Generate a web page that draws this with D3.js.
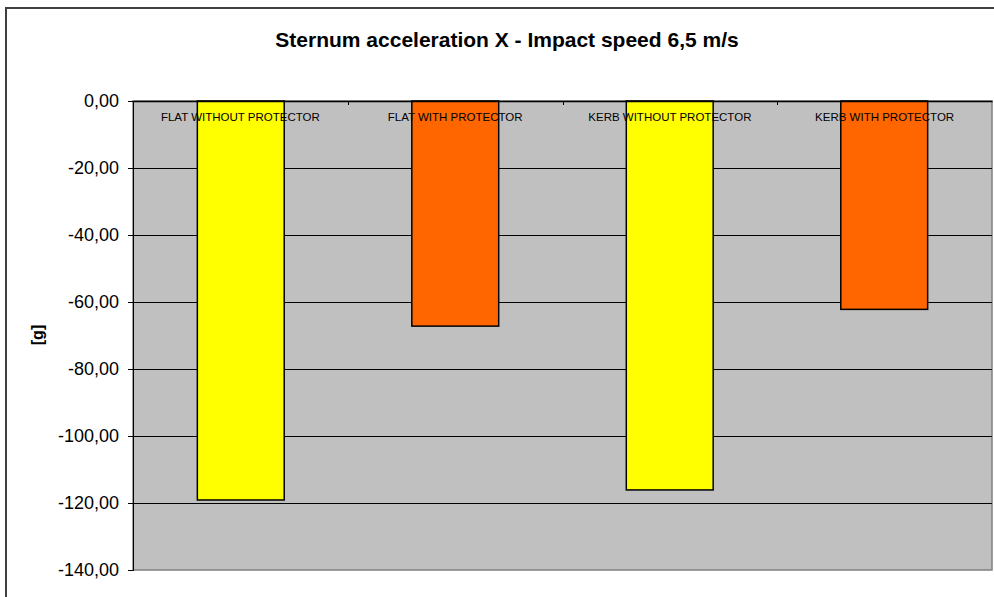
<!DOCTYPE html>
<html>
<head>
<meta charset="utf-8">
<script src="https://cdn.jsdelivr.net/npm/d3@7"></script>
<style>
	body { margin: 0; background: #fff; }
	text { font-family: Arial, "Liberation Sans", sans-serif; }
</style>
</head>
<body>
<svg id="chart"></svg>
<script>
// Data
const categories = ['FLAT WITHOUT PROTECTOR', 'FLAT WITH PROTECTOR', 'KERB WITHOUT PROTECTOR', 'KERB WITH PROTECTOR'];
const values = [-119.1, -67.2, -116.1, -62.2];
const barColours = ['#FFFF00', '#FF6600', '#FFFF00', '#FF6600'];
const yTicks = [0, -20, -40, -60, -80, -100, -120, -140];

const config = {
	width: 994,
	height: 597,
	margin: { top: 101, right: 2, bottom: 27, left: 133 }
};

const innerWidth = config.width - config.margin.left - config.margin.right;
const innerHeight = config.height - config.margin.top - config.margin.bottom;

const svg = d3.select('#chart')
	.attr('width', config.width)
	.attr('height', config.height);

// Outer chart border (right/bottom edges fall outside the picture)
svg.append('rect')
	.attr('x', 6)
	.attr('y', 8)
	.attr('width', 1010)
	.attr('height', 620)
	.attr('fill', '#fff')
	.attr('stroke', '#404040')
	.attr('stroke-width', 2);

svg.append('text')
	.attr('x', 507)
	.attr('y', 47)
	.attr('text-anchor', 'middle')
	.attr('font-size', 21)
	.attr('font-weight', 'bold')
	.text('Sternum acceleration X - Impact speed 6,5 m/s');

const chartArea = svg.append('g')
	.attr('transform', `translate(${config.margin.left},${config.margin.top})`);

const xScale = d3.scaleBand()
	.domain(categories)
	.range([0, innerWidth])
	.paddingInner(0.595)
	.paddingOuter(0.3);

const xCat = d3.scaleBand()
	.domain(categories)
	.range([0, innerWidth]);

const yScale = d3.scaleLinear()
	.domain([0, -140])
	.range([0, innerHeight]);

// Plot area background
chartArea.append('rect')
	.attr('width', innerWidth)
	.attr('height', innerHeight)
	.attr('fill', '#C0C0C0')
	.attr('stroke', '#808080')
	.attr('stroke-width', 1.5);

// Gridlines
chartArea.append('g')
	.selectAll('line')
	.data(yTicks.filter(d => d !== 0 && d !== -140))
	.join('line')
	.attr('x1', 0)
	.attr('x2', innerWidth)
	.attr('y1', d => Math.round(yScale(d)) + 0.5)
	.attr('y2', d => Math.round(yScale(d)) + 0.5)
	.attr('stroke', '#000')
	.attr('stroke-width', 1);

// Bars
chartArea.selectAll('.bar')
	.data(values)
	.join('rect')
	.attr('class', 'bar')
	.attr('x', (d, i) => xScale(categories[i]))
	.attr('y', yScale(0))
	.attr('width', xScale.bandwidth())
	.attr('height', d => yScale(d) - yScale(0))
	.attr('fill', (d, i) => barColours[i])
	.attr('stroke', '#000')
	.attr('stroke-width', 1.5);

// Y axis
const yAxisG = chartArea.append('g')
	.call(d3.axisLeft(yScale)
		.tickValues(yTicks)
		.tickSize(5)
		.tickPadding(9)
		.tickFormat(d => d3.format('.2f')(d).replace('.', ',').replace('−', '-')));
yAxisG.selectAll('text')
	.attr('font-size', 18)
	.attr('fill', '#000');
yAxisG.select('.domain').attr('stroke', '#000');
yAxisG.selectAll('line').attr('stroke', '#000');

// Category axis sits on the zero line, ticks point into the plot
const xAxisG = chartArea.append('g')
	.call(d3.axisBottom(xCat).tickSize(0).tickSizeOuter(0).tickFormat(''));
xAxisG.select('.domain').attr('stroke', '#000').attr('stroke-width', 1.5);

chartArea.append('g')
	.selectAll('line')
	.data(categories.slice(1))
	.join('line')
	.attr('x1', d => Math.round(xCat(d)) + 0.5)
	.attr('x2', d => Math.round(xCat(d)) + 0.5)
	.attr('y1', 0)
	.attr('y2', 4)
	.attr('stroke', '#000');

chartArea.append('g')
	.selectAll('text')
	.data(categories)
	.join('text')
	.attr('x', d => xCat(d) + xCat.bandwidth() / 2)
	.attr('y', 20)
	.attr('text-anchor', 'middle')
	.attr('font-size', 11.5)
	.attr('fill', '#000')
	.text(d => d);

// Y axis title
svg.append('text')
	.attr('transform', 'translate(43,335) rotate(-90)')
	.attr('text-anchor', 'middle')
	.attr('font-size', 16)
	.attr('font-weight', 'bold')
	.text('[g]');
</script>
</body>
</html>
